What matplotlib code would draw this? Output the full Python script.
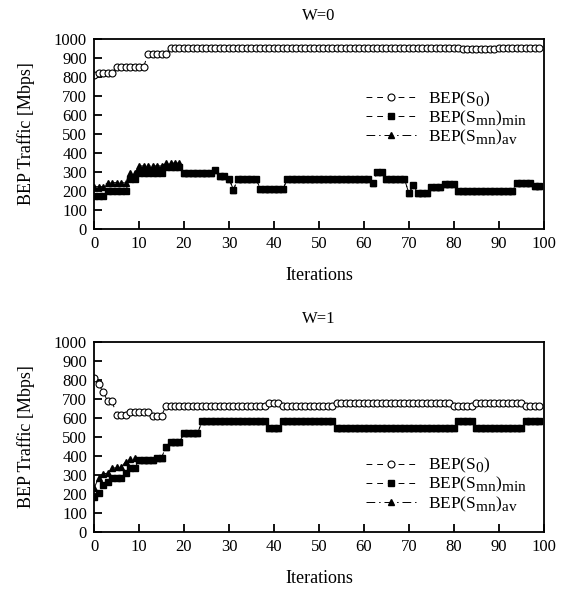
import numpy as np
import matplotlib
matplotlib.use('Agg')
import matplotlib.pyplot as plt
import matplotlib._mathtext as mathtext_internals

plt.rcParams['font.family'] = ['Liberation Serif', 'DejaVu Serif']
plt.rcParams['mathtext.fontset'] = 'custom'
plt.rcParams['mathtext.rm'] = 'Liberation Serif'
# subscripts in the legend are only slightly smaller than the base text
mathtext_internals.SHRINK_FACTOR = 0.88

iterations = np.arange(100)

# W=0 : BEP of the initial solution S0
w0_s0 = np.array(
    [810] + [822] * 4 + [852] * 7 + [922] * 5 + [955] * 65
    + [950] * 8 + [955] * 10
)
# W=0 : minimum BEP over S_mn
w0_min = np.array(
    [175] * 3 + [200] * 5 + [261] * 2 + [293] * 6 + [325] * 4
    + [293] * 7 + [313] + [281] * 2 + [265] + [207] + [265] * 5
    + [209] * 6 + [265] * 19 + [240] + [302] * 2 + [265] * 5
    + [188] + [231] + [188] * 3 + [222] * 3 + [237] * 3 + [198] * 13
    + [244] * 4 + [226] * 2
)
# W=0 : average BEP over S_mn
w0_avg = np.array(
    [223] * 3 + [244] * 5 + [296] * 2 + [332] * 6 + [347] * 4
    + list(w0_min[20:])
)

# W=1 : BEP of the initial solution S0
w1_s0 = np.array(
    [812, 777, 739, 689, 689, 616, 616, 616, 630, 630, 630, 630, 630,
     611, 611, 611]
    + [665] * 23 + [679] * 3 + [665] * 12 + [679] * 26 + [665] * 5
    + [679] * 11 + [665] * 4
)
# W=1 : minimum BEP over S_mn
w1_min = np.array(
    [186, 204, 247, 265, 282, 282, 282, 309, 335, 335, 379, 379, 379,
     379, 391, 391, 449, 475, 475, 475, 519, 519, 519, 519]
    + [582] * 15 + [545] * 3 + [582] * 12 + [545] * 27 + [582] * 4
    + [545] * 11 + [582] * 4
)
# W=1 : average BEP over S_mn
w1_avg = np.array(
    [230, 285, 305, 310, 335, 340, 340, 370, 385, 390]
    + list(w1_min[10:])
)

panels = [
    ('W=0', w0_s0, w0_min, w0_avg, (0.605, 0.735)),
    ('W=1', w1_s0, w1_min, w1_avg, (0.605, 0.40)),
]

fig = plt.figure(figsize=(5.70, 5.91), dpi=100)
axes_rects = [[0.165, 0.6125, 0.789, 0.3215],
              [0.165, 0.0998, 0.789, 0.3215]]

for rect, (title, s0, smin, savg, leg_pos) in zip(axes_rects, panels):
    ax = fig.add_axes(rect)
    ax.plot(iterations, s0, linestyle=(0, (6, 5)), color='black', lw=0.7,
            marker='o', markersize=5, markerfacecolor='white',
            markeredgecolor='black', markeredgewidth=0.8,
            label=r'BEP(S$_\mathregular{0}$)')
    ax.plot(iterations, smin, linestyle=(0, (6, 5)), color='black', lw=0.7,
            marker='s', markersize=5, markerfacecolor='black',
            markeredgecolor='black',
            label=r'BEP(S$_\mathregular{mn}$)$_\mathregular{min}$')
    ax.plot(iterations, savg, linestyle=(0, (9, 4, 1.5, 4)), color='black',
            lw=0.7, marker='^', markersize=4.5, markerfacecolor='black',
            markeredgecolor='black',
            label=r'BEP(S$_\mathregular{mn}$)$_\mathregular{av}$')

    ax.set_xlim(0, 100)
    ax.set_ylim(0, 1000)
    ax.set_xticks(np.arange(0, 101, 10))
    ax.set_yticks(np.arange(0, 1001, 100))
    ax.tick_params(direction='in', length=6, width=1.3, labelsize=12,
                   top=False, right=False, pad=5)
    for sp in ax.spines.values():
        sp.set_linewidth(1.3)
    ax.set_title(title, fontsize=12, pad=14)
    ax.set_xlabel('Iterations', fontsize=13, labelpad=11)
    ax.set_ylabel('BEP Traffic [Mbps]', fontsize=13, labelpad=14)
    ax.legend(loc='upper left', bbox_to_anchor=leg_pos, frameon=False,
              fontsize=12.5, handlelength=2.9, handletextpad=0.65,
              labelspacing=0.0, borderpad=0, borderaxespad=0)

fig.savefig('out.png', dpi=100)
